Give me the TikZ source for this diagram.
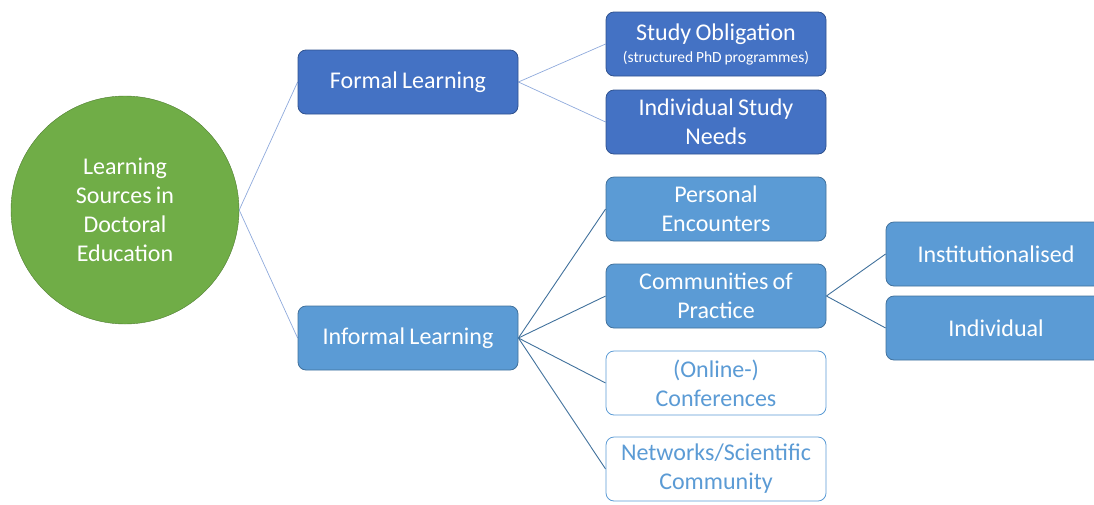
\documentclass[tikz,border=0pt]{standalone}
\usepackage{fontspec}
\setmainfont[WordSpace=0.8]{Carlito}
\usepackage{xcolor}
\usetikzlibrary{positioning, backgrounds}
\definecolor{rootgreen}{HTML}{70AD47}
\definecolor{rootedge}{HTML}{507E32}
\definecolor{formblue}{HTML}{4472C4}
\definecolor{formedge}{HTML}{2F528F}
\definecolor{infblue}{HTML}{5B9BD5}
\definecolor{infedge}{HTML}{41719C}
\definecolor{linklight}{HTML}{8FAADC}
\tikzset{
  hub/.style={circle, draw=rootedge, fill=rootgreen, minimum size=228pt,
    align=center, text=white,
    font=\fontsize{24}{29}\selectfont, inner sep=0pt},
  box/.style={rectangle, rounded corners=8pt, minimum width=220pt,
    minimum height=64pt, align=center, text=white,
    font=\fontsize{24}{29}\selectfont, inner sep=0pt, line width=0.8pt},
  boxF/.style={box, fill=formblue, draw=formedge},
  boxI/.style={box, fill=infblue, draw=infedge},
  boxO/.style={box, fill=white, draw=infblue, text=infblue},
  lnkL/.style={draw=linklight, line width=0.7pt},
  lnkD/.style={draw=infedge, line width=0.9pt},
}

\begin{document}
\begin{tikzpicture}[x=1pt, y=-1pt]
  \useasboundingbox (0,0) rectangle (1094,504);

  % Root circle
  \node[hub] (root) at (125,210) {Learning\\Sources in\\Doctoral\\Education};

  % Formal branch
  \node[boxF] (formal) at (408,82) {Formal Learning};
  \node[boxF] (oblig) at (716,44)
       {Study Obligation\\[-7pt]{\fontsize{15.5}{18}\selectfont (structured PhD programmes)}};
  \node[boxF] (needs) at (716,122) {Individual Study\\Needs};

  % Informal branch
  \node[boxI] (informal) at (408,338) {Informal Learning};
  \node[boxI] (encount) at (716,209) {Personal\\Encounters};
  \node[boxI] (cop) at (716,296) {Communities of\\Practice};
  \node[boxO] (conf) at (716,383) {(Online-)\\Conferences};
  \node[boxO] (netw) at (716,469) {Networks/Scientific\\Community};

  % Communities of practice
  \node[boxI] (inst) at (996,254) {Institutionalised};
  \node[boxI] (indiv) at (996,328) {Individual};

  % Connectors
  \begin{scope}[on background layer]
    \draw[lnkL] (root.east) -- (formal.west);
    \draw[lnkL] (root.east) -- (informal.west);
    \draw[lnkL] (formal.east) -- (oblig.west);
    \draw[lnkL] (formal.east) -- (needs.west);
    \foreach \k in {encount, cop, conf, netw}
      \draw[lnkD] (informal.east) -- (\k.west);
    \draw[lnkD] (cop.east) -- (inst.west);
    \draw[lnkD] (cop.east) -- (indiv.west);
  \end{scope}
\end{tikzpicture}
\end{document}
